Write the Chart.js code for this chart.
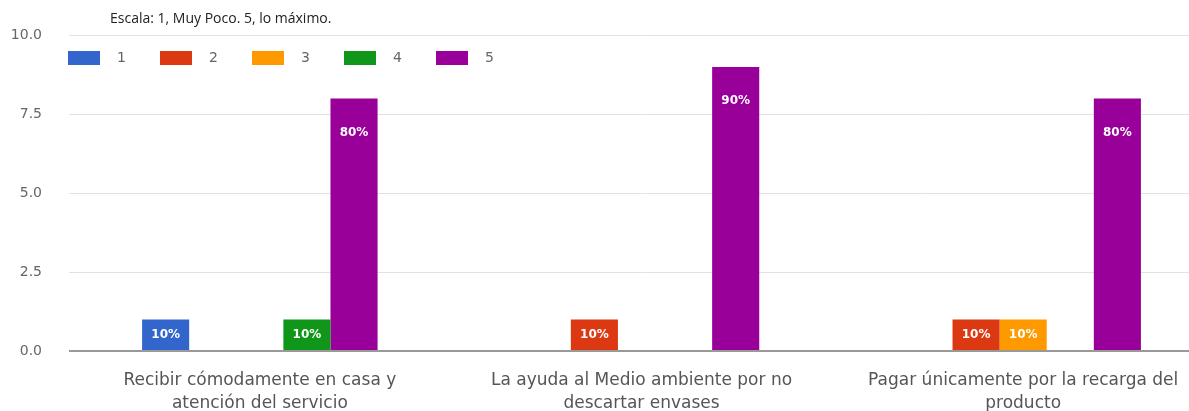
<!DOCTYPE html>
<html>
<head>
<meta charset="utf-8">
<script src="https://cdn.jsdelivr.net/npm/chart.js@4/dist/chart.umd.min.js"></script>
<style>
  html, body { margin: 0; padding: 0; background: #fff; overflow: hidden; }
  #wrap { width: 1214px; height: 425px; position: relative; }
</style>
</head>
<body>
<div id="wrap"><canvas id="graph"></canvas></div>
<script>
const categories = [
    ['Recibir cómodamente en casa y', 'atención del servicio'],
    ['La ayuda al Medio ambiente por no', 'descartar envases'],
    ['Pagar únicamente por la recarga del', 'producto']
];
const seriesNames = ['1', '2', '3', '4', '5'];
const seriesColors = ['#3366cc', '#dc3912', '#ff9900', '#109618', '#990099'];
const score1 = [1, 0, 0];
const score2 = [0, 1, 1];
const score3 = [0, 0, 1];
const score4 = [1, 0, 0];
const score5 = [8, 9, 8];
const yTicks = [0, 2.5, 5, 7.5, 10];
const titleText = 'Escala: 1, Muy Poco. 5, lo máximo.';

const FONT = '"DejaVu Sans", Arial, sans-serif';
const allSeries = [score1, score2, score3, score4, score5];
const totals = categories.map((c, i) => allSeries.reduce((s, arr) => s + arr[i], 0));

const datasets = allSeries.map((values, i) => ({
    label: seriesNames[i],
    data: values,
    backgroundColor: seriesColors[i],
    borderWidth: 0,
    barPercentage: 1,
    categoryPercentage: 0.617
}));

// title, legend and percent labels drawn onto the canvas
const extras = {
    id: 'extras',
    afterDraw: (chart) => {
        const {ctx, chartArea} = chart;
        ctx.save();
        ctx.font = '14px "Open Sans", sans-serif';
        ctx.fillStyle = '#222';
        ctx.textBaseline = 'middle';
        ctx.textAlign = 'left';
        ctx.fillText(titleText, 110, 19);

        // legend row
        ctx.font = '14px ' + FONT;
        chart.data.datasets.forEach((ds, i) => {
            const x = chartArea.left - 1 + i * 92;
            ctx.fillStyle = ds.backgroundColor;
            ctx.fillRect(x, 51, 32, 14);
            ctx.fillStyle = '#666';
            ctx.fillText(ds.label, x + 49, 58);
        });

        // percent labels inside bars
        ctx.font = 'bold 12px ' + FONT;
        ctx.textAlign = 'center';
        ctx.fillStyle = '#fff';
        chart.data.datasets.forEach((ds, di) => {
            const meta = chart.getDatasetMeta(di);
            meta.data.forEach((bar, idx) => {
                const v = ds.data[idx];
                if (!v) return;
                const pct = Math.round(v / totals[idx] * 100) + '%';
                const h = bar.base - bar.y;
                ctx.fillText(pct, bar.x, bar.y + Math.min(34, h / 2));
            });
        });
        ctx.restore();
    }
};

const chart = new Chart(document.getElementById('graph'), {
    type: 'bar',
    data: { labels: categories, datasets: datasets },
    plugins: [extras],
    options: {
        responsive: true,
        maintainAspectRatio: false,
        animation: false,
        layout: { padding: { top: 30, right: 0, left: 0, bottom: 0 } },
        plugins: {
            legend: { display: false },
            tooltip: { enabled: false }
        },
        scales: {
            x: {
                grid: { display: false },
                border: { display: false },
                ticks: {
                    color: '#555',
                    padding: 10,
                    maxRotation: 0,
                    font: { family: FONT, size: 17, lineHeight: 1.35 }
                }
            },
            y: {
                min: 0,
                max: 10,
                afterBuildTicks: (axis) => { axis.ticks = yTicks.map(v => ({ value: v })); },
                afterFit: (axis) => { axis.width = 69; },
                border: { display: false },
                grid: {
                    drawTicks: false,
                    color: (c) => c.tick && c.tick.value === 0 ? '#999' : '#e2e2e2',
                    lineWidth: (c) => c.tick && c.tick.value === 0 ? 2 : 1
                },
                ticks: {
                    color: '#666',
                    padding: 27,
                    font: { family: FONT, size: 14 },
                    callback: (v) => Number(v).toFixed(1)
                }
            }
        }
    }
});
</script>
</body>
</html>
